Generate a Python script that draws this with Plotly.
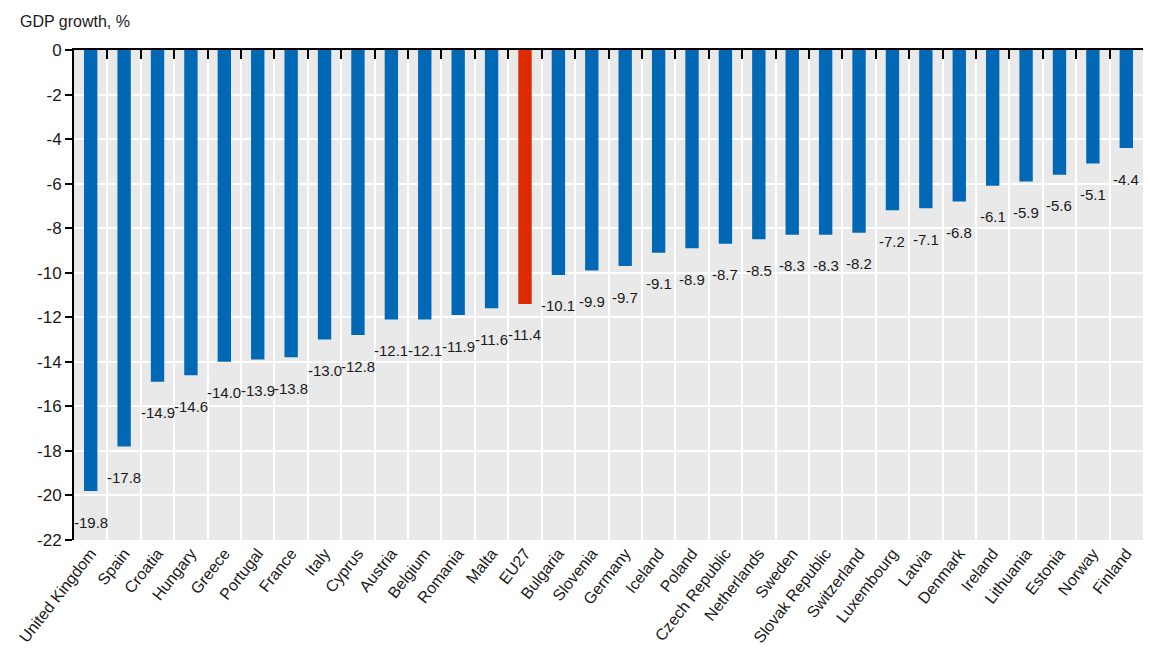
import plotly.graph_objects as go

countries = [
    "United Kingdom", "Spain", "Croatia", "Hungary", "Greece", "Portugal",
    "France", "Italy", "Cyprus", "Austria", "Belgium", "Romania", "Malta",
    "EU27", "Bulgaria", "Slovenia", "Germany", "Iceland", "Poland",
    "Czech Republic", "Netherlands", "Sweden", "Slovak Republic",
    "Switzerland", "Luxembourg", "Latvia", "Denmark", "Ireland",
    "Lithuania", "Estonia", "Norway", "Finland",
]
gdp_growth = [
    -19.8, -17.8, -14.9, -14.6, -14.0, -13.9, -13.8, -13.0, -12.8, -12.1,
    -12.1, -11.9, -11.6, -11.4, -10.1, -9.9, -9.7, -9.1, -8.9, -8.7, -8.5,
    -8.3, -8.3, -8.2, -7.2, -7.1, -6.8, -6.1, -5.9, -5.6, -5.1, -4.4,
]
highlight = "EU27"
y_ticks = list(range(0, -23, -2))

BLUE = "#0068b5"
RED = "#dd2a00"
FONT = "Liberation Sans, Arial, sans-serif"
TEXT = "#1a1a1a"

W, H = 1150, 668
L, R, T, B = 74, 7, 50, 128

colors = [RED if c == highlight else BLUE for c in countries]
x_range = [-0.5, len(countries) - 0.5]

fig = go.Figure()
fig.add_trace(go.Bar(
    x=countries, y=gdp_growth, width=0.4,
    marker=dict(color=colors, line=dict(width=0)),
    hoverinfo="x+y", showlegend=False,
))
# invisible carrier trace so the bottom category axis renders its labels
fig.add_trace(go.Scatter(
    x=countries, y=gdp_growth, xaxis="x2", mode="markers",
    marker=dict(opacity=0), hoverinfo="skip", showlegend=False,
))

for c, v in zip(countries, gdp_growth):
    fig.add_annotation(
        x=c, y=v, xref="x", yref="y", text=f"{v:.1f}", showarrow=False,
        yshift=-31, font=dict(family=FONT, size=15, color=TEXT),
    )

plot_w, plot_h = W - L - R, H - T - B
fig.add_annotation(
    x=(18 - L) / plot_w, y=1 + (T - 22) / plot_h, xref="paper", yref="paper",
    text="GDP growth, %", showarrow=False, xanchor="left", yanchor="middle",
    font=dict(family=FONT, size=16, color=TEXT),
)

fig.update_layout(
    width=W, height=H,
    margin=dict(l=L, r=R, t=T, b=B, autoexpand=False),
    paper_bgcolor="white", plot_bgcolor="#e9e9e9",
    font=dict(family=FONT, color=TEXT),
    xaxis=dict(
        type="category", side="top", anchor="y", range=x_range,
        showline=True, linecolor="black", linewidth=2,
        ticks="inside", ticklen=9, tickwidth=2, tickcolor="black",
        tickson="boundaries", showgrid=True, gridcolor="white", gridwidth=2,
        showticklabels=False, automargin=False,
    ),
    xaxis2=dict(
        type="category", overlaying="x", side="bottom", anchor="y",
        range=x_range, showline=False, ticks="", showgrid=False,
        tickangle=-52, automargin=False,
        tickfont=dict(family=FONT, size=16, color=TEXT),
    ),
    yaxis=dict(
        range=[-22, 0], tickvals=y_ticks, ticktext=[str(t) for t in y_ticks],
        showline=True, linecolor="black", linewidth=2,
        ticks="outside", ticklen=7, tickwidth=2, tickcolor="black",
        showgrid=True, gridcolor="white", gridwidth=2, zeroline=False,
        automargin=False, tickfont=dict(family=FONT, size=17, color=TEXT),
    ),
)

fig.write_html("out.html")
